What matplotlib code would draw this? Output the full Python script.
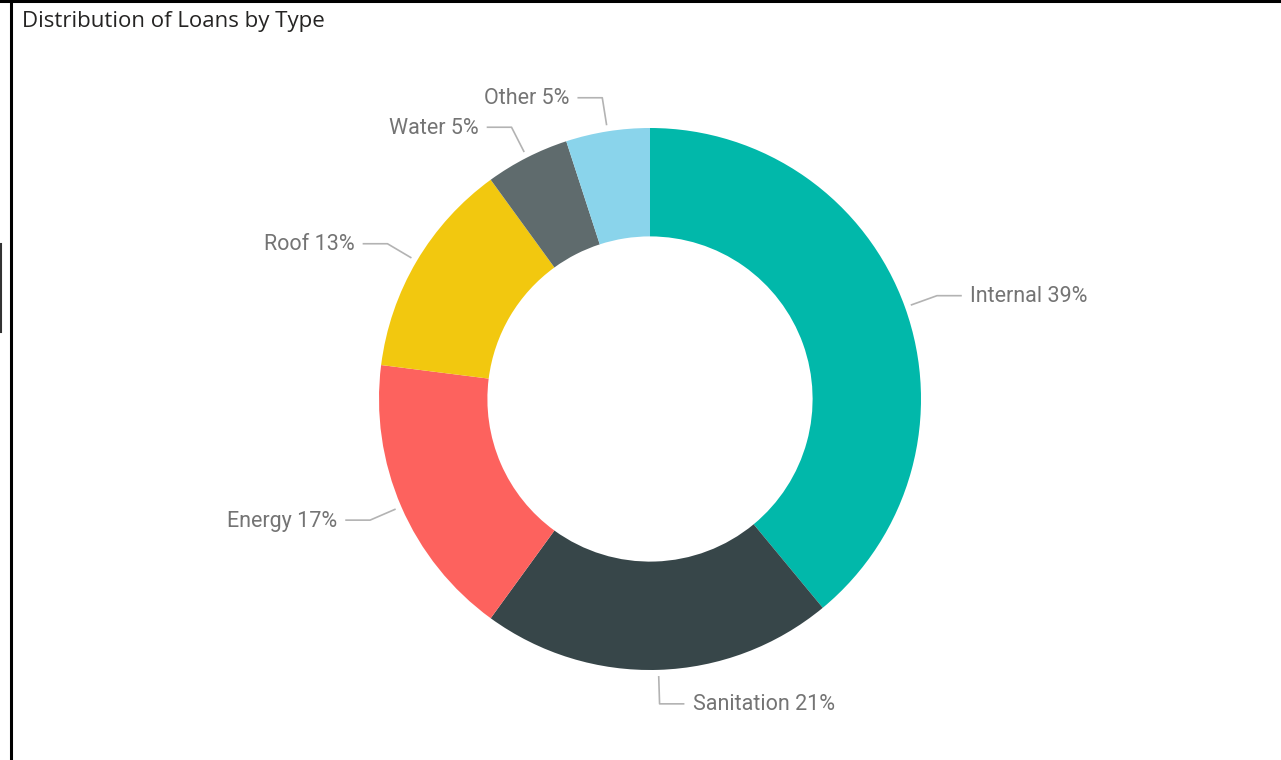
import numpy as np
import matplotlib.pyplot as plt
from matplotlib.lines import Line2D

# datos del grafico
tipos = ["Internal", "Sanitation", "Energy", "Roof", "Water", "Other"]
porcentajes = [39, 21, 17, 13, 5, 5]
colores = ["#01B8AA", "#374649", "#FD625E", "#F2C80F", "#5F6B6D", "#8AD4EB"]

W, H = 1281, 760
fig = plt.figure(figsize=(W / 100, H / 100), dpi=100)
ax = fig.add_axes([0, 0, 1, 1])

centro = (650, H - 399)
radio = 271

wedges, _ = ax.pie(
    porcentajes,
    colors=colores,
    startangle=90,
    counterclock=False,
    radius=radio,
    center=centro,
    wedgeprops=dict(width=radio * 0.4, linewidth=0),
    frame=True,
)
ax.set_xlim(0, W)
ax.set_ylim(0, H)
ax.set_aspect("equal")
ax.axis("off")

gris = "#747474"
linea = "#b3b3b3"
for w, tipo, p in zip(wedges, tipos, porcentajes):
    ang = np.deg2rad((w.theta1 + w.theta2) / 2)
    c, s = np.cos(ang), np.sin(ang)
    x0, y0 = centro[0] + (radio + 7) * c, centro[1] + (radio + 7) * s
    x1, y1 = centro[0] + (radio + 34) * c, centro[1] + (radio + 34) * s
    lado = 1 if c >= 0 else -1
    x2 = x1 + lado * 24
    ax.add_line(Line2D([x0, x1, x2], [y0, y1, y1], color=linea, lw=1.2))
    ax.text(
        x2 + lado * 9, y1 - 1, f"{tipo} {p}%",
        ha="left" if lado > 0 else "right", va="center",
        fontsize=15.5, color=gris, family="Roboto",
    )

fig.text(22 / W, 1 - 21 / H, "Distribution of Loans by Type",
         fontsize=16, color="#252423", family="Open Sans", va="center")

# marco
fig.add_artist(Line2D([0, 1], [1 - 1 / H, 1 - 1 / H], color="black", lw=2.2, transform=fig.transFigure))
fig.add_artist(Line2D([11 / W, 11 / W], [0, 1], color="black", lw=2.2, transform=fig.transFigure))
fig.add_artist(Line2D([1 / W, 1 / W], [1 - 244 / H, 1 - 332 / H], color="#333333", lw=1.5, transform=fig.transFigure))

fig.savefig("out.png", dpi=100, facecolor="white")
